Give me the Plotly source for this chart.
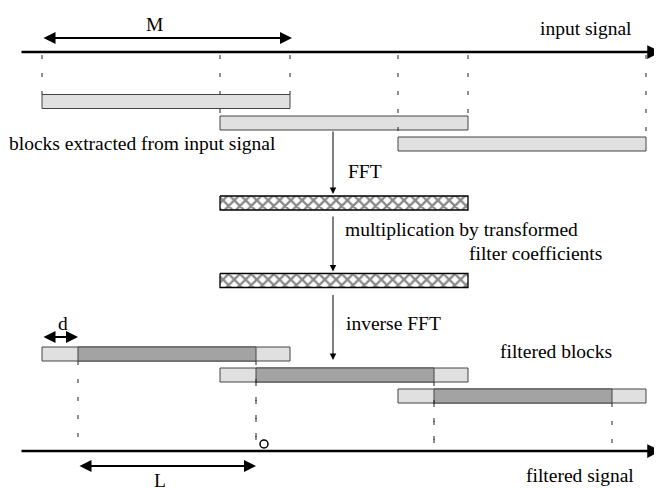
import plotly.graph_objects as go

# ---- diagram data (horizontal positions in sample units, vertical rows) ----
block_starts = [42, 220, 398]        # start of each overlapping block
block_len = 248                      # M : block length
overlap_d = 36                       # d : discarded overlap
out_len = 178                        # L : valid output length per block
input_rows = [101.5, 123, 144]       # row centres of extracted blocks
filtered_rows = [354, 375, 396]      # row centres of filtered blocks
hatched_rows = [203, 280.5]          # FFT / product blocks
row_h = 14

top_axis_y = 52
bottom_axis_y = 451
axis_x = [20, 661]

FONT = "Times New Roman, Liberation Serif, DejaVu Serif, serif"
FS = 19.5
LIGHT = "#e0e0e0"
DARK = "#a3a3a3"
EDGE = "#444444"

# page body has an 8px margin: shift the view so content lands where intended
PAGE_OFF = 8
W, H = 662, 488

fig = go.Figure()
shapes = []
ann = []

def rect(x0, x1, yc, fill):
    shapes.append(dict(type="rect", xref="x", yref="y", x0=x0, x1=x1,
                       y0=yc - row_h / 2, y1=yc + row_h / 2,
                       fillcolor=fill, line=dict(color=EDGE, width=1)))

def dashed(x, y0, y1):
    shapes.append(dict(type="line", xref="x", yref="y", x0=x, x1=x, y0=y0, y1=y1,
                       line=dict(color="#222222", width=1, dash="4px,14px")))

def arrow(x0, y0, x1, y1, width=2, both=False, head=2, size=1.0):
    ann.append(dict(x=x1, y=y1, ax=x0, ay=y0, xref="x", yref="y", axref="x", ayref="y",
                    text="", showarrow=True, arrowhead=head, arrowsize=size,
                    arrowwidth=width, arrowcolor="black",
                    arrowside="end+start" if both else "end"))

def label(x, y, text, xanchor="center", yanchor="middle"):
    ann.append(dict(x=x, y=y, xref="x", yref="y", text=text, showarrow=False,
                    xanchor=xanchor, yanchor=yanchor,
                    font=dict(family=FONT, size=FS, color="black")))

# axes (signals)
arrow(axis_x[0], top_axis_y, axis_x[1], top_axis_y, width=2.5, head=2, size=1.1)
arrow(axis_x[0], bottom_axis_y, axis_x[1], bottom_axis_y, width=2.5, head=2, size=1.1)

# input blocks
for s, yc in zip(block_starts, input_rows):
    rect(s, s + block_len, yc, LIGHT)

# dashed guides for input blocks (drawn over the blocks)
for s, yc in zip(block_starts, input_rows):
    dashed(s, top_axis_y + 3, yc - row_h / 2)
    dashed(s + block_len, top_axis_y + 3, yc - row_h / 2)

# filtered blocks
for s, yc in zip(block_starts, filtered_rows):
    rect(s, s + block_len, yc, LIGHT)
    rect(s + overlap_d, s + overlap_d + out_len, yc, DARK)
for s, yc in zip(block_starts, filtered_rows):
    dashed(s + overlap_d, yc + row_h / 2, bottom_axis_y - 1)
    dashed(s + overlap_d + out_len, yc + row_h / 2, bottom_axis_y - 1)

# hatched blocks (FFT domain)
hs = block_starts[1]
for yc in hatched_rows:
    fig.add_trace(go.Scatter(
        x=[hs, hs + block_len, hs + block_len, hs, hs],
        y=[yc - row_h / 2, yc - row_h / 2, yc + row_h / 2, yc + row_h / 2, yc - row_h / 2],
        mode="lines", fill="toself", line=dict(color="black", width=1.3),
        fillcolor="white",
        fillpattern=dict(shape="x", size=8, solidity=0.5, fgcolor="#111111", bgcolor="white"),
        hoverinfo="skip", showlegend=False))

# circle marker on the output signal
shapes.append(dict(type="circle", xref="x", yref="y", x0=260, x1=268, y0=440, y1=448,
                   line=dict(color="black", width=1.5), fillcolor="white"))

# processing arrows
proc_x = 333
arrow(proc_x, input_rows[1] + row_h / 2, proc_x, hatched_rows[0] - row_h / 2 - 2, width=1, head=2, size=1.3)
arrow(proc_x, hatched_rows[0] + row_h / 2 + 5, proc_x, hatched_rows[1] - row_h / 2 - 2, width=1, head=2, size=1.3)
arrow(proc_x, hatched_rows[1] + row_h / 2 + 6, proc_x, filtered_rows[0] + 6, width=1, head=2, size=1.3)

# dimension arrows
arrow(block_starts[0], 38, block_starts[0] + block_len + 2, 38, width=2, both=True, head=2, size=1.2)
arrow(block_starts[0], 337, block_starts[0] + overlap_d, 337, width=2, both=True, head=2, size=1.2)
arrow(block_starts[0] + overlap_d, 466, block_starts[0] + overlap_d + out_len, 466, width=2, both=True, head=2, size=1.2)

# labels
label(154, 24, "M")
label(586, 28, "input signal")
label(142, 143, "blocks extracted from input signal")
label(346, 171, "FFT", xanchor="left")
label(343, 229, "multiplication by transformed", xanchor="left")
label(467, 253, "filter coefficients", xanchor="left")
label(344, 323, "inverse FFT", xanchor="left")
label(63, 323, "d")
label(556, 351, "filtered blocks")
label(580, 475, "filtered signal")
label(160, 468, "L", yanchor="top")

fig.update_layout(
    width=W - PAGE_OFF, height=H - PAGE_OFF,
    margin=dict(l=0, r=0, t=0, b=0),
    paper_bgcolor="white", plot_bgcolor="white",
    xaxis=dict(range=[PAGE_OFF, W], visible=False, fixedrange=True),
    yaxis=dict(range=[H, PAGE_OFF], visible=False, fixedrange=True),
    shapes=shapes, annotations=ann, showlegend=False,
)

fig.write_html("out.html")
